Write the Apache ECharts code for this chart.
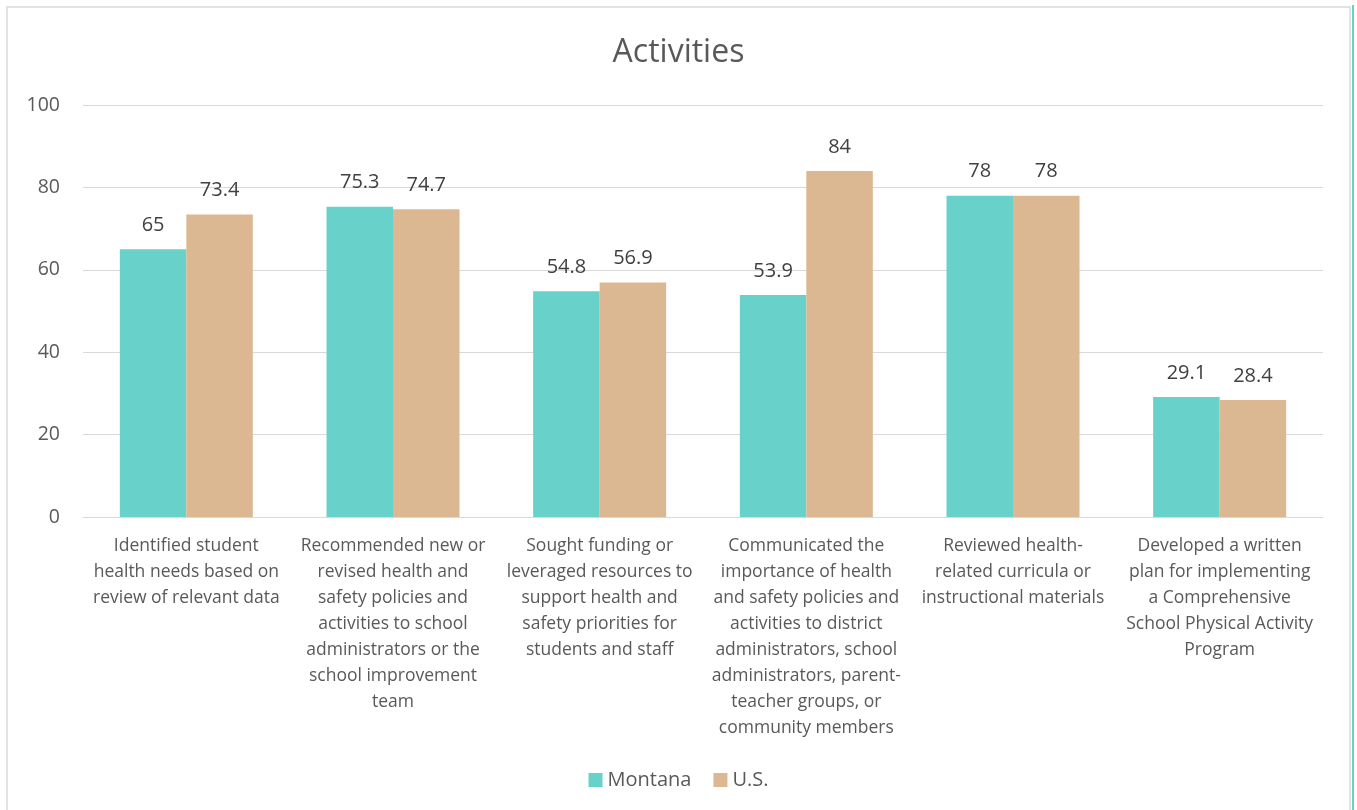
<!DOCTYPE html>
<html>
<head>
<meta charset="utf-8">
<script src="https://cdn.jsdelivr.net/npm/echarts@6/dist/echarts.min.js"></script>
<style>
  html, body { margin: 0; padding: 0; background: #fff; }
  #chart { width: 1357px; height: 810px; }
</style>
</head>
<body>
<div id="chart"></div>
<script>
// categories (wrapped as in the picture)
const categories = [
  'Identified student\nhealth needs based on\nreview of relevant data',
  'Recommended new or\nrevised health and\nsafety policies and\nactivities to school\nadministrators or the\nschool improvement\nteam',
  'Sought funding or\nleveraged resources to\nsupport health and\nsafety priorities for\nstudents and staff',
  'Communicated the\nimportance of health\nand safety policies and\nactivities to district\nadministrators, school\nadministrators, parent-\nteacher groups, or\ncommunity members',
  'Reviewed health-\nrelated curricula or\ninstructional materials',
  'Developed a written\nplan for implementing\na Comprehensive\nSchool Physical Activity\nProgram'
]
const montana = [65, 75.3, 54.8, 53.9, 78, 29.1]
const us = [73.4, 74.7, 56.9, 84, 78, 28.4]

const font = '"Open Sans", "Liberation Sans", sans-serif'

var myChart = echarts.init(document.getElementById('chart'))

const labelStyle = {
  show: true,
  position: 'top',
  distance: 14,
  color: '#404040',
  fontFamily: font,
  fontSize: 20
}

let option = {
  animation: false,
  title: {
    text: 'Activities',
    left: 'center',
    top: 32,
    textStyle: {
      color: '#595959',
      fontFamily: font,
      fontSize: 32,
      fontWeight: 'normal'
    }
  },
  legend: {
    bottom: 15,
    left: 'center',
    itemWidth: 14,
    itemHeight: 14,
    itemGap: 22,
    icon: 'rect',
    textStyle: {
      color: '#595959',
      fontFamily: font,
      fontSize: 20
    }
  },
  grid: {
    left: 83,
    right: 34,
    top: 105,
    bottom: 293,
    containLabel: false
  },
  xAxis: {
    type: 'category',
    data: categories,
    axisTick: { show: false },
    axisLine: { lineStyle: { color: '#d9d9d9' } },
    axisLabel: {
      interval: 0,
      margin: 16,
      color: '#595959',
      fontFamily: font,
      fontSize: 17.5,
      lineHeight: 26
    }
  },
  yAxis: {
    type: 'value',
    min: 0,
    max: 100,
    interval: 20,
    axisLine: { show: false },
    axisTick: { show: false },
    axisLabel: {
      margin: 23,
      color: '#595959',
      fontFamily: font,
      fontSize: 19.5
    },
    splitLine: { lineStyle: { color: '#d9d9d9' } }
  },
  series: [
    {
      name: 'Montana',
      type: 'bar',
      data: montana,
      barWidth: 66.5,
      barGap: 0,
      itemStyle: { color: '#68D1C9' },
      label: labelStyle
    },
    {
      name: 'U.S.',
      type: 'bar',
      data: us,
      barWidth: 66.5,
      barGap: 0,
      itemStyle: { color: '#DCB892' },
      label: labelStyle
    }
  ],
  graphic: [
    {
      type: 'rect',
      shape: { x: 7, y: 7, width: 1343, height: 810 },
      style: { fill: 'none', stroke: '#d9d9d9', lineWidth: 1.5 }
    },
    {
      type: 'line',
      shape: { x1: 1353, y1: 5, x2: 1353, y2: 810 },
      style: { stroke: '#68D1C9', lineWidth: 2 }
    }
  ]
}

myChart.setOption(option)
</script>
</body>
</html>
